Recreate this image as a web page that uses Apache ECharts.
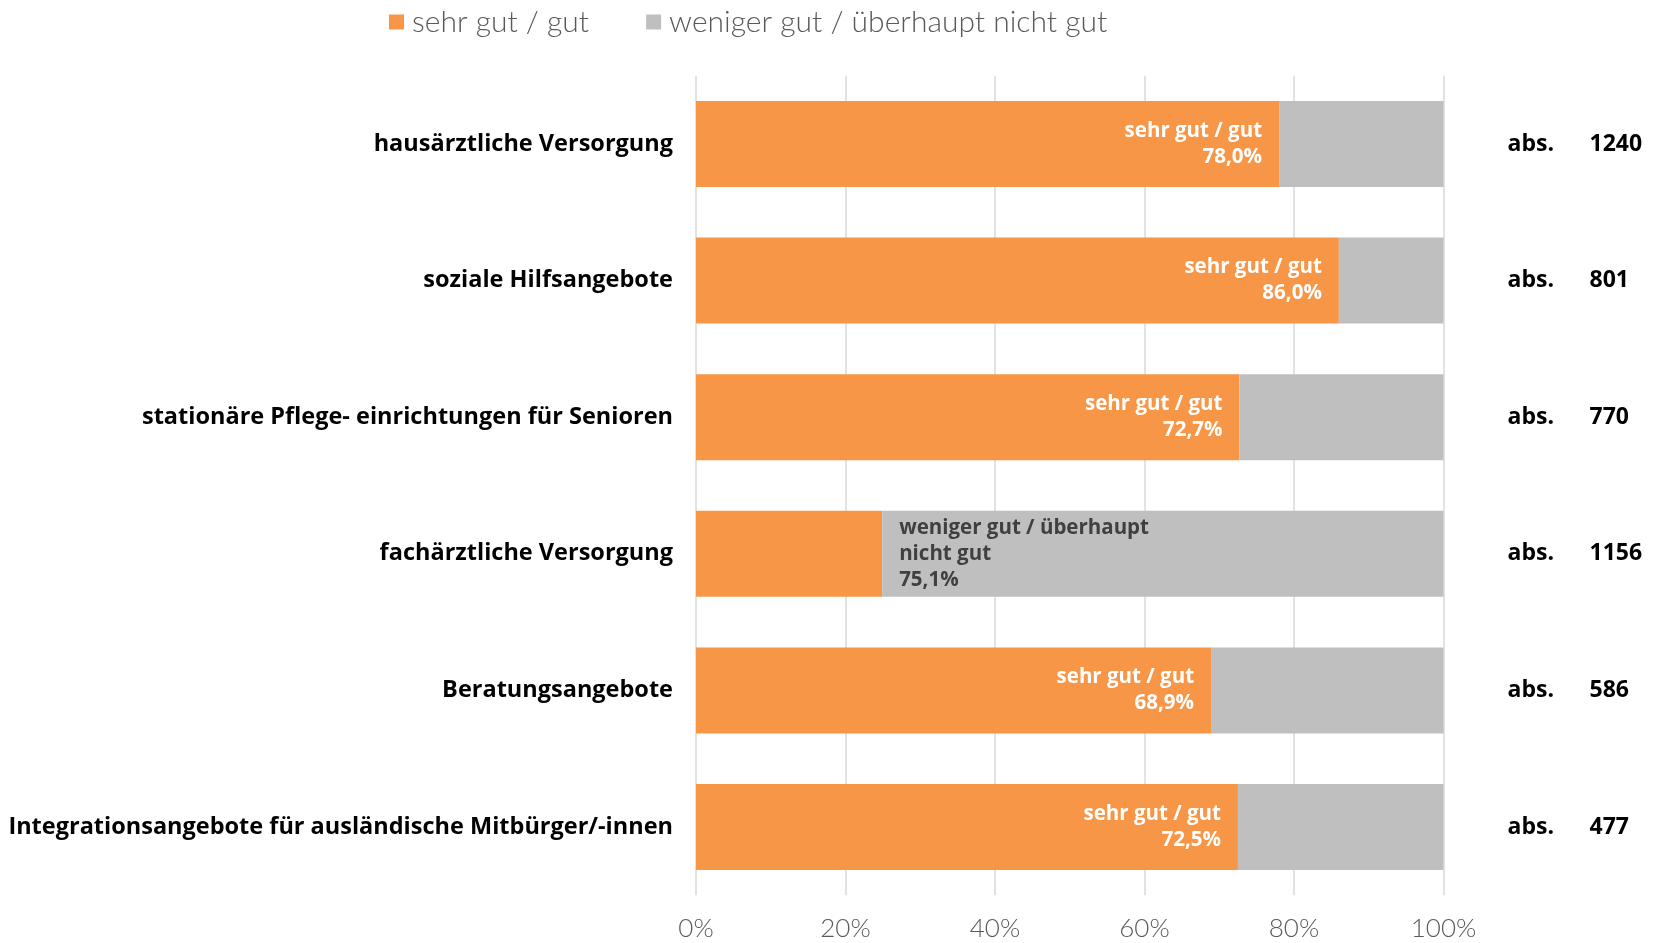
<!DOCTYPE html>
<html>
<head>
<meta charset="utf-8">
<title>Zufriedenheit mit Angeboten</title>
<script src="https://cdn.jsdelivr.net/npm/echarts@6/dist/echarts.min.js"></script>
<style>
  html, body { margin: 0; padding: 0; background: #fff; }
  #chart { width: 1664px; height: 943px; }
</style>
</head>
<body>
<div id="chart"></div>
<script>
// Kategorien (von oben nach unten)
const categories = [
  'hausärztliche Versorgung',
  'soziale Hilfsangebote',
  'stationäre Pflege- einrichtungen für Senioren',
  'fachärztliche Versorgung',
  'Beratungsangebote',
  'Integrationsangebote für ausländische Mitbürger/-innen'
];

// Anteile in Prozent
const gutValues = [78.0, 86.0, 72.7, 24.9, 68.9, 72.5];
const wenigerGutValues = [22.0, 14.0, 27.3, 75.1, 31.1, 27.5];

// Fallzahlen
const absValues = [1240, 801, 770, 1156, 586, 477];

const xTicks = [0, 20, 40, 60, 80, 100];

const seriesNames = ['sehr gut / gut', 'weniger gut / überhaupt nicht gut'];
const colors = ['#F79646', '#BFBFBF'];

const fmtPct = v => v.toFixed(1).replace('.', ',') + '%';

// Beschriftung jeweils am größeren Segment
const gutData = gutValues.map((v, i) => ({
  value: v,
  label: { show: v >= wenigerGutValues[i] }
}));
const wenigerData = wenigerGutValues.map((v, i) => ({
  value: v,
  label: { show: v > gutValues[i] }
}));

const chart = echarts.init(document.getElementById('chart'), null, { renderer: 'canvas' });

chart.setOption({
  animation: false,
  backgroundColor: '#ffffff',
  color: colors,
  legend: {
    top: 2,
    left: 384,
    itemWidth: 15,
    itemHeight: 15,
    itemGap: 57,
    icon: 'rect',
    textStyle: { fontFamily: 'Lato', fontWeight: 300, fontSize: 30, color: '#595959', padding: [0, 0, 0, 3] },
    data: seriesNames
  },
  grid: {
    left: 696,
    right: 220.5,
    top: 75.7,
    bottom: 47.7,
    containLabel: false,
    outerBoundsMode: 'none'
  },
  xAxis: {
    type: 'value',
    min: 0,
    max: 100,
    interval: 20,
    axisLine: { show: false },
    axisTick: { show: false },
    splitLine: { show: true, lineStyle: { color: '#d9d9d9', width: 1.5 } },
    axisLabel: {
      margin: 20,
      fontFamily: 'Lato',
      fontWeight: 300,
      fontSize: 26,
      color: '#595959',
      formatter: v => xTicks.includes(v) ? v + '%' : ''
    }
  },
  yAxis: [
    {
      type: 'category',
      data: categories,
      inverse: true,
      axisLine: { show: false },
      axisTick: { show: false },
      axisLabel: {
        margin: 23,
        fontFamily: 'Open Sans',
        fontWeight: 'bold',
        fontSize: 23.5,
        color: '#000000'
      }
    },
    {
      type: 'category',
      data: categories,
      inverse: true,
      position: 'right',
      axisLine: { show: false },
      axisTick: { show: false },
      axisLabel: {
        margin: 64,
        align: 'left',
        formatter: (v, i) => '{a|abs.}{n|' + absValues[i] + '}',
        rich: {
          a: { width: 82, fontFamily: 'Open Sans', fontWeight: 'bold', fontSize: 23, color: '#000' },
          n: { fontFamily: 'Open Sans', fontWeight: 'bold', fontSize: 23, color: '#000' }
        }
      }
    }
  ],
  series: [
    {
      name: seriesNames[0],
      type: 'bar',
      stack: 'total',
      barWidth: 86,
      data: gutData,
      itemStyle: { color: colors[0] },
      label: {
        position: 'insideRight',
        distance: 17,
        fontFamily: 'Open Sans',
        fontWeight: 'bold',
        fontSize: 20.5,
        lineHeight: 26,
        color: '#ffffff',
        formatter: p => seriesNames[0] + '\n' + fmtPct(p.value)
      }
    },
    {
      name: seriesNames[1],
      type: 'bar',
      stack: 'total',
      barWidth: 86,
      data: wenigerData,
      itemStyle: { color: colors[1] },
      label: {
        position: 'insideLeft',
        distance: 17,
        fontFamily: 'Open Sans',
        fontWeight: 'bold',
        fontSize: 20.5,
        lineHeight: 26,
        color: '#404040',
        formatter: p => 'weniger gut / überhaupt\nnicht gut\n' + fmtPct(p.value)
      }
    }
  ]
});
</script>
</body>
</html>
